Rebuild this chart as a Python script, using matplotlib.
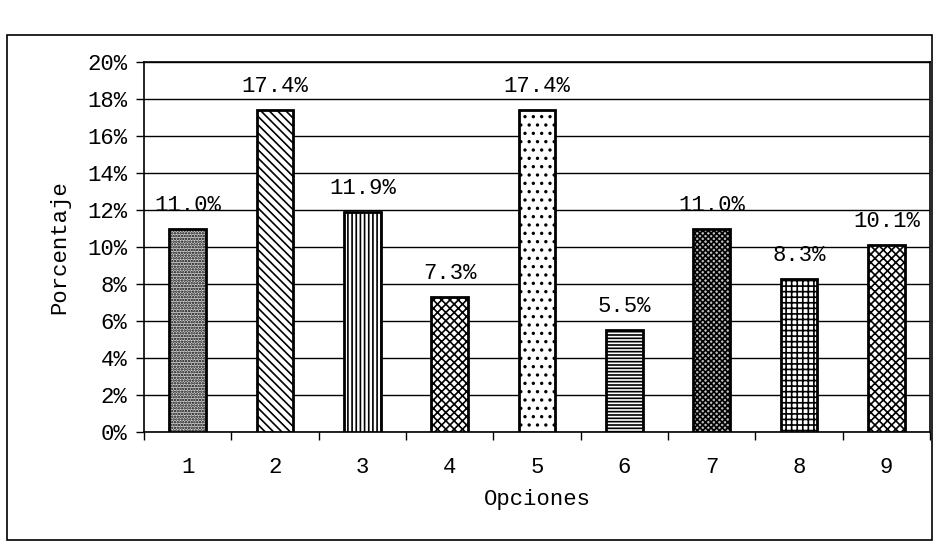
import matplotlib
matplotlib.use("Agg")
import matplotlib.pyplot as plt
from matplotlib.patches import Rectangle
from matplotlib.ticker import FixedLocator, FuncFormatter

# ── Data ──────────────────────────────────────────────────────────────────────
opciones = ["1", "2", "3", "4", "5", "6", "7", "8", "9"]
porcentaje = [11.0, 17.4, 11.9, 7.3, 17.4, 5.5, 11.0, 8.3, 10.1]
etiquetas = ["11.0%", "17.4%", "11.9%", "7.3%", "17.4%", "5.5%", "11.0%", "8.3%", "10.1%"]

hatches = ["......", "\\\\\\\\", "||||", "xxxx", "..", "-----", "xxxxxx", "+++", "xxxx"]
faces = ["#d4d4d4", "white", "white", "white", "white", "white", "#bdbdbd", "white", "white"]

font = "Liberation Mono"
plt.rcParams["font.family"] = [font, "DejaVu Sans Mono"]
plt.rcParams["hatch.linewidth"] = 1.2

fig = plt.figure(figsize=(9.48, 5.45), dpi=100)
ax = fig.add_axes([0.152, 0.207, 0.829, 0.679])

x = list(range(len(opciones)))
bars = ax.bar(x, porcentaje, width=0.42, color=faces, edgecolor="black",
              linewidth=2.0, hatch=hatches, zorder=3)

for xi, v, lab in zip(x, porcentaje, etiquetas):
    ax.text(xi, v + 0.7, lab, ha="center", va="bottom", fontsize=16, zorder=4)

ax.set_xlim(-0.5, len(opciones) - 0.5)
ax.set_ylim(0, 20)
ax.set_yticks(range(0, 21, 2))
ax.yaxis.set_major_formatter(FuncFormatter(lambda v, p: f"{int(v)}%"))
ax.grid(axis="y", color="black", linewidth=1.0, zorder=0)

ax.set_xticks(x)
ax.set_xticklabels(opciones)
ax.xaxis.set_minor_locator(FixedLocator([i + 0.5 for i in range(-1, len(opciones))]))
ax.tick_params(axis="x", which="major", length=0, pad=18, labelsize=16)
ax.tick_params(axis="x", which="minor", length=6, width=1, direction="out")
ax.tick_params(axis="y", length=6, width=1, direction="out", pad=6, labelsize=16)

for s in ax.spines.values():
    s.set_linewidth(1.2)

ax.set_xlabel("Opciones", fontsize=16, labelpad=8)
ax.set_ylabel("Porcentaje", fontsize=16, labelpad=12)

# outer chart frame
fig.patches.append(Rectangle((0.0074, 0.009), 0.976, 0.927, transform=fig.transFigure,
                             fill=False, edgecolor="black", linewidth=1.2))

fig.savefig("out.png", dpi=100)
